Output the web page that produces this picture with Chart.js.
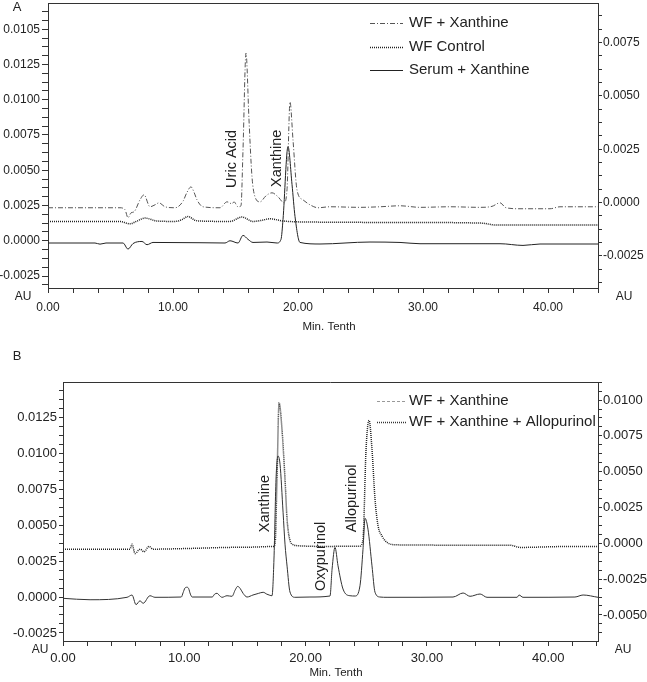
<!DOCTYPE html>
<html>
<head>
<meta charset="utf-8">
<script src="https://cdn.jsdelivr.net/npm/chart.js@4.4.0/dist/chart.umd.min.js"></script>
<style>
  html, body { margin: 0; padding: 0; background: #fff; }
  #wrapA { position: absolute; left: 0; top: 0; width: 647px; height: 340px; }
  #wrapB { position: absolute; left: 0; top: 340px; width: 647px; height: 342px; }
</style>
</head>
<body>
<div id="wrapA"><canvas id="chartA" width="647" height="340"></canvas></div>
<div id="wrapB"><canvas id="chartB" width="647" height="342"></canvas></div>
<script>
// ---- panel A data (time in min, absorbance in AU) ----
var timeA1 = [0, 5.76, 6.16, 6.4, 6.64, 6.88, 7.36, 7.68, 8.16, 8.56, 8.88, 9.36, 10.16, 10.8, 11.1, 11.44, 11.7, 11.92, 12.4, 13.76, 14.32, 14.72, 14.88, 15.2, 15.44, 15.6, 15.84, 16.08, 16.32, 16.56, 16.96, 17.44, 17.92, 18.4, 18.88, 19.12, 19.36, 19.6, 19.92, 20.4, 20.96, 21.6, 22.56, 24.96, 26.56, 28.16, 29.76, 32.16, 34.56, 35.52, 36.16, 36.64, 37.76, 40.16, 40.96, 44];
var wfXanthineA = [0.00234, 0.00234, 0.00220, 0.00163, 0.00198, 0.00205, 0.00290, 0.00326, 0.00241, 0.00255, 0.00269, 0.00241, 0.00234, 0.00280, 0.00340, 0.00382, 0.00340, 0.00290, 0.00241, 0.00234, 0.00276, 0.00262, 0.00276, 0.00241, 0.00248, 0.00644, 0.01331, 0.00857, 0.00453, 0.00312, 0.00276, 0.00319, 0.00340, 0.00312, 0.00269, 0.00361, 0.00984, 0.00715, 0.00361, 0.00290, 0.00255, 0.00234, 0.00241, 0.00237, 0.00241, 0.00248, 0.00237, 0.00241, 0.00237, 0.00244, 0.00269, 0.00234, 0.00227, 0.00227, 0.00241, 0.00241];

var timeA2 = [0, 5.76, 6.56, 7.12, 7.76, 8.72, 10.16, 10.72, 11.2, 11.76, 12.16, 14.56, 15.52, 16.4, 17.12, 17.76, 18.8, 21.76, 28.16, 34.72, 35.84, 44];
var wfControlA = [0.00137, 0.00137, 0.00120, 0.00140, 0.00161, 0.00140, 0.00137, 0.00150, 0.00172, 0.00145, 0.00140, 0.00137, 0.00168, 0.00137, 0.00145, 0.00156, 0.00140, 0.00132, 0.00130, 0.00125, 0.00111, 0.00111];

var timeA3 = [0, 3.76, 4.16, 4.64, 6.0, 6.4, 6.8, 7.52, 7.92, 8.4, 12.16, 14.16, 14.56, 15.2, 15.6, 16.0, 16.4, 17.52, 18.32, 18.64, 18.8, 19.2, 19.52, 19.76, 20.16, 21.76, 25.76, 28.16, 29.76, 36.16, 38.0, 39.36, 44];
var serumXanthineA = [-0.00016, -0.00016, -0.00024, -0.00016, -0.00016, -0.00059, -0.00020, -0.00005, -0.00028, -0.00012, -0.00014, -0.00016, 0.00000, -0.00016, 0.00038, 0.00010, -0.00012, -0.00009, -0.00016, 0.00010, 0.00150, 0.00668, 0.00400, 0.00172, -0.00012, -0.00023, -0.00009, -0.00012, -0.00021, -0.00021, -0.00033, -0.00023, -0.00023];

// ---- panel B data ----
var timeB1 = [0, 5.52, 5.69, 5.94, 6.35, 6.68, 7.09, 7.42, 10.47, 13.52, 15.42, 17.31, 17.48, 17.64, 17.81, 18.05, 18.3, 18.47, 18.63, 18.88, 19.54, 21.19, 24.48, 24.73, 24.98, 25.23, 25.47, 25.72, 25.97, 26.3, 26.71, 27.54, 31.9, 36.85, 37.68, 40.97, 44.1];
var wfXanthineB = [0.00333, 0.00333, 0.00368, 0.00303, 0.00333, 0.00315, 0.00352, 0.00333, 0.00338, 0.00345, 0.00347, 0.00352, 0.00368, 0.00820, 0.01352, 0.01167, 0.00820, 0.00542, 0.00424, 0.00368, 0.00356, 0.00352, 0.00354, 0.00403, 0.01028, 0.01229, 0.01028, 0.00680, 0.00495, 0.00424, 0.00380, 0.00363, 0.00361, 0.00361, 0.00345, 0.00351, 0.00352];

var timeB2 = [0, 2.23, 5.28, 5.69, 6.02, 6.35, 6.6, 7.17, 7.58, 9.75, 9.9, 10.05, 10.2, 10.35, 10.5, 10.65, 12.3, 12.5, 12.7, 12.9, 13.11, 13.52, 13.93, 14.2, 14.4, 14.6, 14.85, 15.17, 15.66, 16.1, 16.5, 16.8, 17.05, 17.23, 17.39, 17.56, 17.72, 17.89, 18.14, 18.3, 18.47, 18.71, 19.13, 20.36, 22.01, 22.18, 22.42, 22.67, 23.08, 23.66, 24.07, 24.48, 24.73, 24.9, 25.14, 25.47, 25.72, 26.13, 26.71, 32.15, 32.98, 33.55, 34.38, 34.95, 37.43, 37.59, 37.92, 42.2, 42.87, 44.1];
var wfAllopurinolB = [-0.00009, -0.00019, -0.00002, 0.00014, -0.00053, -0.00026, -0.00044, 0.00009, -0.00002, 0.00000, 0.00030, 0.00062, 0.00068, 0.00060, 0.00020, 0.00000, 0.00000, 0.00020, 0.00026, 0.00010, -0.00002, 0.00009, 0.00005, 0.00050, 0.00074, 0.00060, 0.00025, 0.00000, 0.00014, 0.00025, 0.00033, 0.00020, 0.00012, 0.00009, 0.00264, 0.00820, 0.00981, 0.00924, 0.00590, 0.00368, 0.00215, 0.00035, -0.00002, 0.00000, 0.00007, 0.00194, 0.00345, 0.00217, 0.00056, 0.00009, 0.00007, 0.00078, 0.00333, 0.00547, 0.00472, 0.00217, 0.00033, 0.00000, -0.00002, 0.00000, 0.00028, 0.00005, 0.00021, -0.00002, -0.00002, 0.00014, -0.00002, 0.00000, 0.00014, -0.00002];

// peak labels: [text, time, AU at start of text]
var peaksA = [['Uric Acid', 14.68, 0.00375], ['Xanthine', 18.32, 0.00382]];
var peaksB = [['Xanthine', 16.65, 0.00451], ['Oxypurinol', 21.27, 0.00042], ['Allopurinol', 23.83, 0.00451]];

var FONT = '"Liberation Sans", Arial, Helvetica, sans-serif';
var INK = '#222';

function pts(t, v) {
  return t.map(function (x, i) { return { x: x, y: v[i] }; });
}

function auLabel(special) {
  return function (v) {
    var k = v / 0.0025;
    var r = Math.round(k);
    if (Math.abs(k - r) > 1e-6) return '';
    if (special && special[r] !== undefined) return special[r];
    var s = (r * 0.0025).toFixed(4);
    return s === '-0.0000' ? '0.0000' : s;
  };
}
function minLabel(v) {
  var k = v / 10;
  return Math.abs(k - Math.round(k)) < 1e-6 ? v.toFixed(2) : '';
}
function fixWidth(w) {
  return function (s) { s.width = w; s.paddingTop = 0; s.paddingBottom = 0; };
}
function fixHeight(h) {
  return function (s) { s.height = h; s.paddingLeft = 0; s.paddingRight = 0; };
}

var extras = {
  id: 'extras',
  afterDraw: function (chart, args, o) {
    var ctx = chart.ctx, a = chart.chartArea;
    var xs = chart.scales.x, ys = chart.scales.y;
    ctx.save();
    ctx.strokeStyle = '#333';
    ctx.lineWidth = 1;
    ctx.beginPath();
    ctx.moveTo(a.left, a.top + 0.5);
    ctx.lineTo(a.right, a.top + 0.5);
    ctx.stroke();

    ctx.fillStyle = INK;
    ctx.textBaseline = 'middle';
    ctx.textAlign = 'center';
    ctx.font = o.tickSize + 'px ' + FONT;
    ctx.fillText('AU', o.auLeft[0], o.auLeft[1]);
    ctx.fillText('AU', o.auRight[0], o.auRight[1]);
    ctx.font = '11.5px ' + FONT;
    ctx.fillText('Min. Tenth', o.title[0], o.title[1]);
    ctx.font = '13px ' + FONT;
    ctx.fillText(o.panel, o.panelPos[0], o.panelPos[1]);

    // rotated peak names
    ctx.font = '14.5px ' + FONT;
    ctx.textAlign = 'left';
    o.peaks.forEach(function (p) {
      ctx.save();
      ctx.translate(xs.getPixelForValue(p[1]), ys.getPixelForValue(p[2]));
      ctx.rotate(-Math.PI / 2);
      ctx.fillText(p[0], 0, 0);
      ctx.restore();
    });

    // legend
    ctx.font = '15px ' + FONT;
    o.legend.forEach(function (it) {
      ctx.save();
      ctx.strokeStyle = it.color;
      ctx.lineWidth = it.width;
      ctx.setLineDash(it.dash);
      ctx.beginPath();
      ctx.moveTo(it.x0, it.y + 0.5);
      ctx.lineTo(it.x1, it.y + 0.5);
      ctx.stroke();
      ctx.restore();
      ctx.fillText(it.text, it.tx, it.y);
    });
    ctx.restore();
  }
};

function yAxis(pos, min, max, size, tl, pad, w, special) {
  return {
    type: 'linear', position: pos, min: min, max: max, display: true,
    afterFit: fixWidth(w),
    border: { display: true, color: '#333', width: 1 },
    grid: { drawOnChartArea: false, drawTicks: true, tickLength: tl, color: '#333' },
    ticks: {
      stepSize: 0.000625, includeBounds: false, autoSkip: false, padding: pad,
      color: INK, font: { family: FONT, size: size }, callback: auLabel(special)
    }
  };
}
function xAxis(max, size, pad, h) {
  return {
    type: 'linear', position: 'bottom', min: 0, max: max,
    afterFit: fixHeight(h),
    border: { display: true, color: '#333', width: 1 },
    grid: { drawOnChartArea: false, drawTicks: true, tickLength: 5, color: '#333' },
    ticks: {
      stepSize: 2, includeBounds: false, autoSkip: false, maxRotation: 0, padding: pad,
      color: INK, font: { family: FONT, size: size }, callback: minLabel
    }
  };
}
function ds(label, data, color, width, dash) {
  return {
    label: label, data: data, borderColor: color, borderWidth: width, borderDash: dash,
    pointRadius: 0, fill: false, tension: 0.4, cubicInterpolationMode: 'monotone', yAxisID: 'y'
  };
}

new Chart(document.getElementById('chartA'), {
  type: 'line',
  data: {
    datasets: [
      ds('WF + Xanthine', pts(timeA1, wfXanthineA), '#555', 1, [5, 2, 1, 2]),
      ds('WF Control', pts(timeA2, wfControlA), '#222', 1.5, [1, 1]),
      ds('Serum + Xanthine', pts(timeA3, serumXanthineA), '#222', 1, [])
    ]
  },
  options: {
    responsive: false, animation: false, events: [],
    layout: { padding: { top: 3, left: 0, right: 0, bottom: 0 } },
    scales: {
      x: xAxis(44, 12, 7, 52),
      y: yAxis('left', -0.00335, 0.01686, 12, 6, 2, 48, { 6: '0.0105' }),
      y2: yAxis('right', -0.0040, 0.00935, 12, 4, 1, 49)
    },
    plugins: {
      legend: { display: false }, tooltip: { enabled: false },
      extras: {
        panel: 'A', panelPos: [17, 7], tickSize: 12,
        auLeft: [23, 297], auRight: [624, 297], title: [329, 327],
        peaks: peaksA,
        legend: [
          { text: 'WF + Xanthine', x0: 370, x1: 403, tx: 409, y: 23, color: '#555', width: 1, dash: [5, 2, 1, 2] },
          { text: 'WF Control', x0: 370, x1: 403, tx: 409, y: 47, color: '#222', width: 1.5, dash: [1, 1] },
          { text: 'Serum + Xanthine', x0: 370, x1: 403, tx: 409, y: 70, color: '#222', width: 1, dash: [] }
        ]
      }
    }
  },
  plugins: [extras]
});

new Chart(document.getElementById('chartB'), {
  type: 'line',
  data: {
    datasets: [
      ds('WF + Xanthine', pts(timeB1, wfXanthineB), '#222', 1.5, [1, 1]),
      ds('WF + Xanthine + Allopurinol', pts(timeB2, wfAllopurinolB), '#333', 1, [])
    ]
  },
  options: {
    responsive: false, animation: false, events: [],
    layout: { padding: { top: 42, left: 0, right: 0, bottom: 0 } },
    scales: {
      x: xAxis(44.1, 13, 5, 41),
      y: yAxis('left', -0.00306, 0.01496, 13, 4, 2, 63),
      y2: yAxis('right', -0.00682, 0.01126, 13, 4, 1, 49)
    },
    plugins: {
      legend: { display: false }, tooltip: { enabled: false },
      extras: {
        panel: 'B', panelPos: [17, 16], tickSize: 12,
        auLeft: [40, 310], auRight: [623, 310], title: [336, 333],
        peaks: peaksB,
        legend: [
          { text: 'WF + Xanthine', x0: 377, x1: 407, tx: 409, y: 61, color: '#999', width: 1, dash: [3, 2] },
          { text: 'WF + Xanthine + Allopurinol', x0: 377, x1: 407, tx: 409, y: 82, color: '#333', width: 1.5, dash: [1, 1] }
        ]
      }
    }
  },
  plugins: [extras]
});
</script>
</body>
</html>
